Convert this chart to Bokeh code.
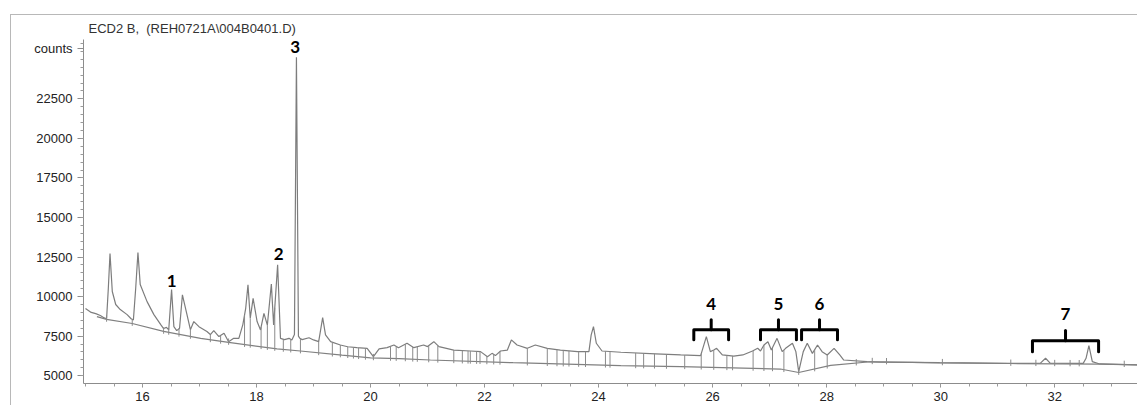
import numpy as np
from bokeh.plotting import figure
from bokeh.models import FixedTicker
from bokeh.core.properties import value
from bokeh.embed import file_html
from bokeh.resources import INLINE

# ---- chromatogram trace (retention time in min, detector counts) ----
time_min = [15.00, 15.10, 15.18, 15.26, 15.33, 15.37, 15.40, 15.43, 15.47, 15.53,
            15.61, 15.73, 15.80, 15.84, 15.88, 15.92, 15.96, 16.08, 16.20, 16.32,
            16.37, 16.42, 16.46, 16.51, 16.55, 16.60, 16.65, 16.70, 16.78, 16.84,
            16.90, 16.99, 17.13, 17.19, 17.25, 17.34, 17.43, 17.51, 17.60, 17.69,
            17.76, 17.81, 17.85, 17.89, 17.94, 18.01, 18.07, 18.13, 18.19, 18.26,
            18.30, 18.37, 18.42, 18.49, 18.57, 18.62, 18.665, 18.70, 18.735, 18.76,
            18.80, 18.92, 19.00, 19.09, 19.16, 19.21, 19.30, 19.47, 19.60, 19.76,
            19.94, 20.05, 20.15, 20.29, 20.41, 20.49, 20.64, 20.76, 20.93, 21.00,
            21.11, 21.20, 21.46, 21.75, 21.93, 22.05, 22.13, 22.19, 22.28, 22.40,
            22.47, 22.57, 22.75, 22.89, 23.10, 23.33, 23.63, 23.83, 23.87, 23.91,
            23.96, 24.06, 24.39, 25.00, 25.44, 25.79, 25.89, 25.96, 26.02, 26.07,
            26.17, 26.37, 26.53, 26.70, 26.79, 26.84, 26.90, 26.97, 27.03, 27.13,
            27.22, 27.28, 27.40, 27.46, 27.51, 27.59, 27.66, 27.75, 27.84, 27.92,
            28.01, 28.13, 28.23, 28.30, 28.71, 28.95, 29.50, 29.98, 31.21, 31.75,
            31.84, 31.92, 32.50, 32.55, 32.60, 32.66, 32.79, 33.45]
counts = [9240, 9000, 8920, 8800, 8650, 8600, 10500, 12720, 10320, 9500,
          9180, 8860, 8600, 8520, 10500, 12780, 10760, 9680, 8860, 8230,
          7980, 8050, 7900, 10440, 8100, 7850, 8000, 10110, 8860, 7910,
          8420, 8100, 7790, 7600, 7850, 7470, 7680, 7150, 7360, 7360,
          8230, 9260, 10740, 8630, 9890, 8420, 7890, 8940, 8200, 10790,
          8200, 12010, 7360, 7280, 7360, 7250, 7600, 25130, 7500, 7360,
          7280, 7400, 7260, 7150, 8670, 7580, 7150, 6940, 6830, 6770,
          6730, 6200, 6690, 6770, 6940, 6770, 7050, 6770, 6940, 6840,
          7150, 6840, 6620, 6560, 6520, 6200, 6410, 6270, 6560, 6620,
          7260, 6940, 6730, 6940, 6730, 6620, 6520, 6520, 7580, 8100,
          7050, 6560, 6480, 6380, 6310, 6270, 7470, 6520, 6620, 6730,
          6310, 6240, 6310, 6560, 6730, 6560, 6940, 7150, 6620, 7360,
          6520, 6730, 7050, 6520, 5250, 6520, 7050, 6410, 6940, 6520,
          6310, 6730, 6310, 5990, 5890, 5850, 5840, 5820, 5780, 5790,
          6100, 5790, 5780, 6100, 6900, 5890, 5740, 5680]

# ---- integration baseline ----
baseline_time = [15.20, 15.37, 15.82, 16.37, 17.02, 17.51, 18.36, 18.77, 19.50, 20.00,
                 20.50, 21.05, 22.50, 24.39, 25.44, 27.19, 27.51, 28.07, 28.77, 29.00,
                 29.98, 31.21, 32.80, 33.45]
baseline_counts = [8730, 8560, 8300, 7800, 7360, 7100, 6700, 6560, 6300, 6130,
                   6080, 5990, 5820, 5640, 5570, 5420, 5200, 5650, 5880, 5870,
                   5810, 5770, 5730, 5680]

# ---- peak start/stop drop lines ----
drop_times = [15.37, 15.82, 16.37, 16.46, 16.64, 16.84, 17.19, 17.37, 17.51, 17.79,
              17.89, 18.08, 18.19, 18.32, 18.47, 18.60, 18.77, 19.09, 19.33, 19.47,
              19.60, 19.70, 19.79, 19.91, 20.05, 20.35, 20.45, 20.61, 20.74, 20.82,
              21.02, 21.18, 21.46, 21.61, 21.71, 21.75, 21.86, 21.92, 22.04, 22.16,
              22.27, 22.75, 23.10, 23.27, 23.38, 23.48, 23.65, 23.77, 24.12, 24.20,
              24.65, 24.79, 24.98, 25.19, 25.51, 25.80, 26.02, 26.25, 26.35, 26.71,
              26.90, 27.05, 27.25, 27.51, 27.79, 28.01, 28.52, 28.80, 29.05, 30.03,
              31.23, 31.67, 32.00, 32.27, 32.43, 33.22]

# ---- numbered single peaks ----
peak_labels = ["1", "2", "3"]
peak_label_time = [16.51, 18.39, 18.68]
peak_label_counts = [11010, 12720, 25800]

# ---- numbered peak groups (brackets) ----
group_labels = ["4", "5", "6", "7"]
group_start = [25.67, 26.84, 27.56, 31.61]
group_end = [26.28, 27.47, 28.19, 32.77]
group_level = [7910, 7910, 7910, 7215]
group_label_counts = [9560, 9560, 9560, 8920]

x_major_ticks = [16, 18, 20, 22, 24, 26, 28, 30, 32]
y_major_ticks = [5000, 7500, 10000, 12500, 15000, 17500, 20000, 22500]
y_unit_tick = 25700
y_unit_label = "counts"
title_text = "ECD2 B,\u00a0 (REH0721A\\004B0401.D)"

GRAY = "#8a8a8a"

p = figure(width=1127, height=391, x_range=(14.965, 33.47), y_range=(4505, 26254),
           output_backend="svg", toolbar_location=None,
           min_border_left=72, min_border_top=18, min_border_right=0, min_border_bottom=23,
           title=title_text)
p.margin = (14, 0, 0, 10)
p.styles = {"border-top": "1px solid #b8b8b8", "border-left": "1px solid #b8b8b8"}
p.outline_line_color = None
p.xgrid.visible = False
p.ygrid.visible = False
p.background_fill_color = "white"
p.border_fill_color = "white"

p.title.text_font = "Liberation Sans"
p.title.text_font_size = "13px"
p.title.text_font_style = "normal"
p.title.text_color = "#333333"
p.title.align = "left"
p.title.offset = 5
p.title.standoff = 7

# axes
p.xaxis.ticker = FixedTicker(ticks=x_major_ticks,
                             minor_ticks=list(np.arange(15.0, 33.5, 0.5)))
p.yaxis.ticker = FixedTicker(ticks=y_major_ticks + [y_unit_tick],
                             minor_ticks=list(np.arange(4500, 26001, 500)))
p.yaxis.major_label_overrides = {y_unit_tick: y_unit_label}
for ax in (p.xaxis, p.yaxis):
    ax.axis_line_color = "#8c8c8c"
    ax.major_tick_line_color = "#8c8c8c"
    ax.minor_tick_line_color = "#9a9a9a"
    ax.major_label_text_font = "Liberation Sans"
    ax.major_label_text_font_size = "13px"
    ax.major_label_text_color = "#222222"
p.yaxis.major_tick_out = 6
p.yaxis.major_tick_in = 0
p.yaxis.minor_tick_out = 3
p.yaxis.minor_tick_in = 0
p.yaxis.major_label_standoff = 5
p.xaxis.major_tick_out = 4
p.xaxis.major_tick_in = 0
p.xaxis.minor_tick_out = 3
p.xaxis.minor_tick_in = 0
p.xaxis.major_label_standoff = 4

# trace, baseline, drop lines
p.line(time_min, counts, line_color="#7d7d7d", line_width=1.2)
p.line(baseline_time, baseline_counts, line_color="#808080", line_width=1.2)
d_trace = np.interp(drop_times, time_min, counts)
d_base = np.interp(drop_times, baseline_time, baseline_counts)
d_top = np.maximum(d_trace, d_base + 250)
d_bot = d_base - 150
p.segment(x0=drop_times, y0=d_bot, x1=drop_times, y1=d_top, line_color=GRAY, line_width=1)

# brackets for peak groups
leg = [633, 633, 633, 700]
xs, ys = [], []
for s, e, lv, lg in zip(group_start, group_end, group_level, leg):
    xs.append([s, s, e, e])
    ys.append([lv - lg, lv, lv, lv - lg])
    c = (s + e) / 2
    xs.append([c, c])
    ys.append([lv, lv + 633])
p.multi_line(xs, ys, line_color="black", line_width=3, line_join="round", line_cap="round")

# number labels
p.text(x=peak_label_time, y=peak_label_counts, text=peak_labels,
       text_font=value("Lato"), text_font_style="bold", text_font_size="17px",
       text_align="center", text_baseline="middle", text_color="black")
p.text(x=[(s + e) / 2 for s, e in zip(group_start, group_end)], y=group_label_counts,
       text=group_labels, text_font=value("Lato"), text_font_style="bold",
       text_font_size="17px", text_align="center", text_baseline="middle",
       text_color="black")

open("out.html", "w").write(file_html(p, INLINE))
